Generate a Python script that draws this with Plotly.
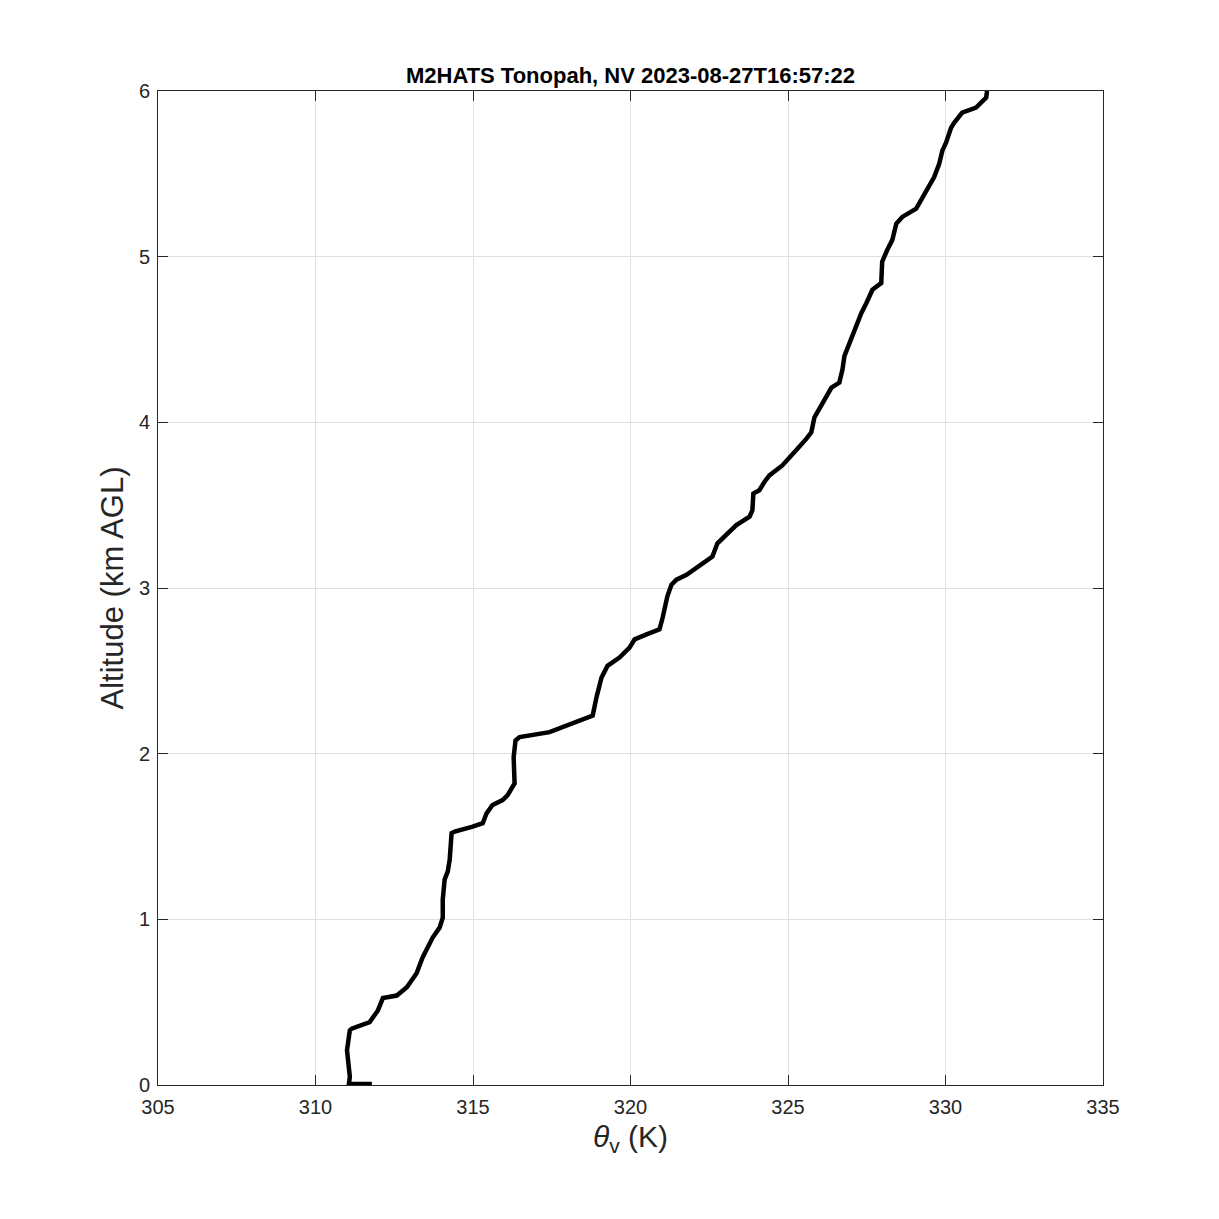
import plotly.graph_objects as go

theta_v = [311.79, 311.06, 311.09, 311.00, 311.09, 311.15, 311.72, 311.98, 312.14, 312.58,
           312.90, 313.21, 313.40, 313.53, 313.72, 313.94, 314.04, 314.04, 314.10, 314.20,
           314.26, 314.32, 314.42, 314.99, 315.31, 315.43, 315.62, 315.94, 316.10, 316.32,
           316.29, 316.35, 316.48, 317.43, 318.16, 318.80, 318.92, 319.08, 319.27, 319.65,
           319.97, 320.13, 320.51, 320.92, 321.02, 321.17, 321.30, 321.46, 321.78, 322.13,
           322.60, 322.76, 323.14, 323.36, 323.78, 323.87, 323.90, 324.09, 324.25, 324.41,
           324.82, 325.04, 325.30, 325.58, 325.74, 325.84, 326.09, 326.38, 326.63, 326.73,
           326.79, 326.95, 327.17, 327.33, 327.49, 327.68, 327.96, 327.99, 328.15, 328.31,
           328.44, 328.63, 329.07, 329.26, 329.48, 329.64, 329.80, 329.90, 330.02, 330.18,
           330.28, 330.53, 330.97, 331.29, 331.32]
altitude_km = [0.006, 0.006, 0.05, 0.21, 0.33, 0.34, 0.38, 0.45, 0.525, 0.54,
               0.59, 0.675, 0.77, 0.825, 0.89, 0.95, 1.01, 1.12, 1.24, 1.29,
               1.36, 1.52, 1.53, 1.56, 1.58, 1.64, 1.69, 1.72, 1.75, 1.82,
               1.98, 2.08, 2.10, 2.13, 2.18, 2.23, 2.34, 2.46, 2.53, 2.58,
               2.64, 2.69, 2.72, 2.75, 2.82, 2.95, 3.02, 3.05, 3.08, 3.13,
               3.19, 3.27, 3.34, 3.38, 3.43, 3.47, 3.57, 3.59, 3.64, 3.68,
               3.74, 3.79, 3.84, 3.90, 3.94, 4.03, 4.12, 4.21, 4.24, 4.32,
               4.40, 4.48, 4.58, 4.66, 4.72, 4.80, 4.84, 4.97, 5.04, 5.10,
               5.20, 5.24, 5.29, 5.35, 5.42, 5.48, 5.56, 5.64, 5.69, 5.78,
               5.81, 5.87, 5.90, 5.96, 6.00]

x_ticks = [305, 310, 315, 320, 325, 330, 335]
y_ticks = [0, 1, 2, 3, 4, 5, 6]
title_text = "M2HATS Tonopah, NV 2023-08-27T16:57:22"

FONT = "Liberation Sans, Arial, Helvetica"

fig = go.Figure()
fig.add_trace(go.Scatter(x=theta_v, y=altitude_km, mode="lines",
                         line=dict(color="black", width=4.5), showlegend=False))

axis_common = dict(showline=True, linecolor="#262626", linewidth=1, mirror="allticks",
                   ticks="inside", ticklen=10, tickcolor="#262626",
                   showgrid=True, gridcolor="#e0e0e0", gridwidth=1, zeroline=False,
                   tickfont=dict(family=FONT, size=20, color="#262626"))

# page body has an 8px offset; margins compensate so the plot box lands at 158..1103 x 91..1085
fig.update_layout(
    width=1219, height=1219,
    paper_bgcolor="white", plot_bgcolor="white",
    margin=dict(l=150, r=124, t=83, b=142),
    title=dict(text="<b>" + title_text + "</b>", x=(150 + 1095) / 2 / 1219, xanchor="center",
               y=1 - 67 / 1219, yanchor="middle",
               font=dict(family=FONT, size=22, color="black")),
    xaxis=dict(range=[305, 335], tickvals=x_ticks, ticktext=[str(v) for v in x_ticks],
               ticklabelstandoff=4,
               title=dict(text="<i>θ</i><sub>v</sub> (K)", standoff=8,
                          font=dict(family=FONT, size=30, color="#262626")),
               **axis_common),
    yaxis=dict(range=[0, 6], tickvals=y_ticks, ticktext=[str(v) for v in y_ticks],
               ticklabelstandoff=3,
               title=dict(text="Altitude (km AGL)", standoff=6,
                          font=dict(family=FONT, size=31, color="#262626")),
               **axis_common),
)

fig.write_html("out.html")
